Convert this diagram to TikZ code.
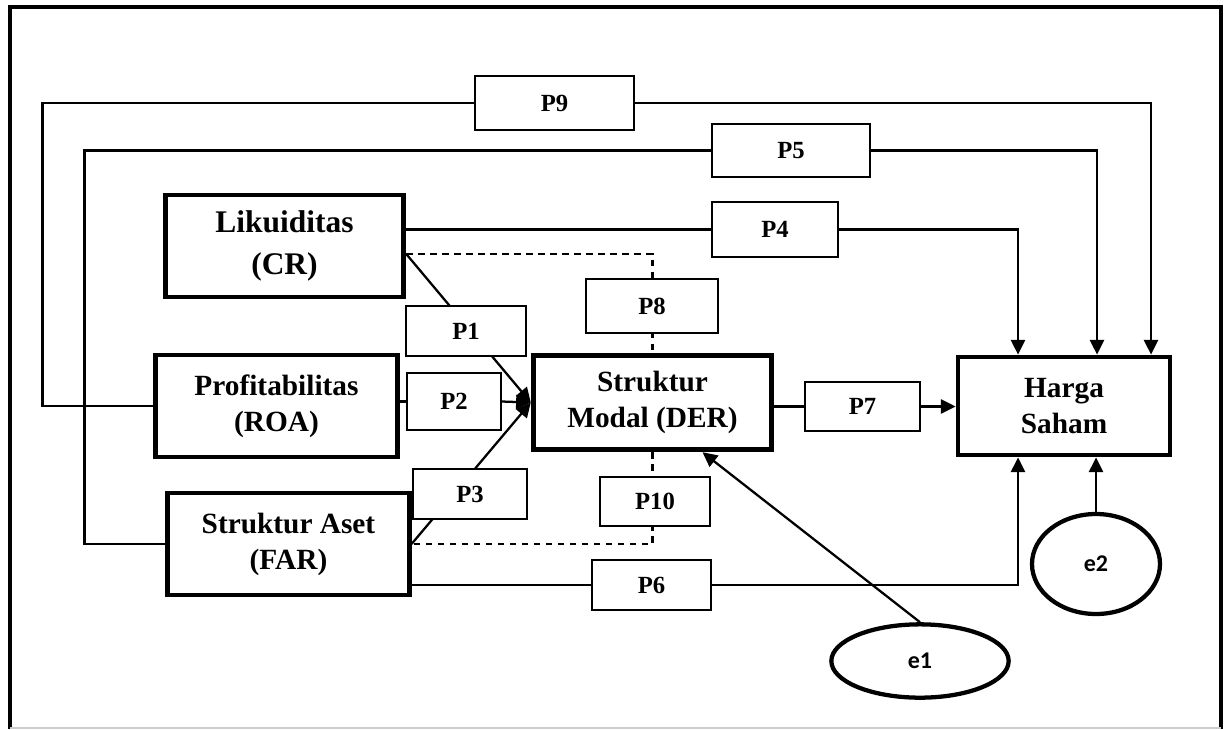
\documentclass[tikz,border=0pt]{standalone}
\usepackage{fontspec}
\setmainfont{Liberation Serif}
\newfontfamily\errfont{Carlito}
\usetikzlibrary{
  arrows.meta,
  shapes.geometric,
  positioning,
  calc,
  backgrounds
}
\tikzset{
  varbox/.style={
    draw, line width=3.6pt, fill=white, align=center, inner sep=0pt,
    font=\fontsize{22}{27}\selectfont\bfseries
  },
  pbox/.style={draw, line width=1.3pt, fill=white, inner sep=0pt,
    font=\fontsize{18.5}{22}\selectfont\bfseries},
  errnode/.style={draw, ellipse, line width=3.2pt, fill=white, inner sep=0pt,
    font=\errfont\fontsize{18}{20}\selectfont\bfseries},
  wire/.style={line width=1.7pt},
  effect/.style={wire, -{Triangle[length=11pt, width=10.5pt]}},
  moderation/.style={wire, dash pattern=on 5pt off 4pt},
  outerframe/.style={line width=3.6pt}
}

\begin{document}
\begin{tikzpicture}[x=0.75pt, y=-0.75pt]
  \useasboundingbox (0,0) rectangle (1227,729);
  \draw[outerframe] (10,729) -- (10,7) -- (1221,7) -- (1221,729);
  \draw[gray!40, line width=1pt] (10,728) -- (1221,728);

  % variables
  \node[varbox, minimum width=179pt, minimum height=76.5pt,
    font=\fontsize{23.6}{31.5}\selectfont\bfseries] (cr) at (284.5,246) {Likuiditas\\(CR)};
  \node[varbox, minimum width=181pt, minimum height=76.5pt] (roa) at (276.5,406) {Profitabilitas\\(ROA)};
  \node[varbox, minimum width=181pt, minimum height=76.5pt] (far) at (288.5,544) {Struktur Aset\\(FAR)};
  \node[varbox, minimum width=179pt, minimum height=71pt] (der) at (652.5,402.5) {Struktur\\Modal (DER)};
  \node[varbox, minimum width=159pt, minimum height=73.5pt] (harga) at (1064,406) {Harga\\Saham};

  % path labels
  \node[pbox, minimum width=90pt, minimum height=37.5pt] (p1) at (466,331) {P1};
  \node[pbox, minimum width=70.5pt, minimum height=42.75pt] (p2) at (454,401.5) {P2};
  \node[pbox, minimum width=85.5pt, minimum height=37.5pt] (p3) at (470,494) {P3};
  \node[pbox, minimum width=94.5pt, minimum height=41.25pt] (p4) at (775,229.5) {P4};
  \node[pbox, minimum width=118.5pt, minimum height=39.75pt] (p5) at (791,150.5) {P5};
  \node[pbox, minimum width=89.25pt, minimum height=37.5pt] (p6) at (651.5,585) {P6};
  \node[pbox, minimum width=86.25pt, minimum height=36.75pt] (p7) at (862.5,406.5) {P7};
  \node[pbox, minimum width=99pt, minimum height=40.5pt] (p8) at (652,306) {P8};
  \node[pbox, minimum width=119.25pt, minimum height=40.5pt] (p9) at (554.5,103) {P9};
  \node[pbox, minimum width=82.5pt, minimum height=36.75pt] (p10) at (655,501.5) {P10};

  % errors
  \node[errnode, minimum width=133pt, minimum height=55pt] (e1) at (920,661) {e1};
  \node[errnode, minimum width=96pt, minimum height=75pt] (e2) at (1096,564) {e2};

  \begin{scope}[on background layer]
    % direct paths to harga saham
    \draw[wire] (roa.west) -- ++(-111,0) |- (p9.west);
    \draw[effect] (p9.east) -| ($(harga.north)+(87,0)$);
    \draw[wire] (far.west) -- ++(-81,0) |- (p5.west);
    \draw[effect] (p5.east) -| ($(harga.north)+(33,0)$);
    \draw[wire] (p4.west -| cr.east) -- (p4.west);
    \draw[effect] (p4.east) -| ($(harga.north)+(-46,0)$);
    \draw[wire] (p6.west -| far.east) -- (p6.west);
    \draw[effect] (p6.east) -| ($(harga.south)+(-46,0)$);
    \draw[wire] (der.east |- p7.west) -- (p7.west);
    \draw[effect] (p7.east) -- (p7.east -| harga.west);
    % paths to struktur modal
    \coordinate (crd) at ($(cr.east)+(0,8)$);
    \draw[effect] (crd) -- (der.west);
    \draw[wire] (roa.east |- p2.west) -- (p2.west);
    \draw[effect] (p2.east) -- (der.west);
    \draw[effect] (far.east) -- (der.west);
    % moderation
    \draw[moderation] (crd) -| (der.north);
    \draw[moderation] (der.south) |- (far.east);
    % residuals
    \draw[effect] (e1.north) -- ($(der.south)+(50,0)$);
    \draw[effect] (e2.north) -- (e2.north |- harga.south);
  \end{scope}
\end{tikzpicture}
\end{document}
